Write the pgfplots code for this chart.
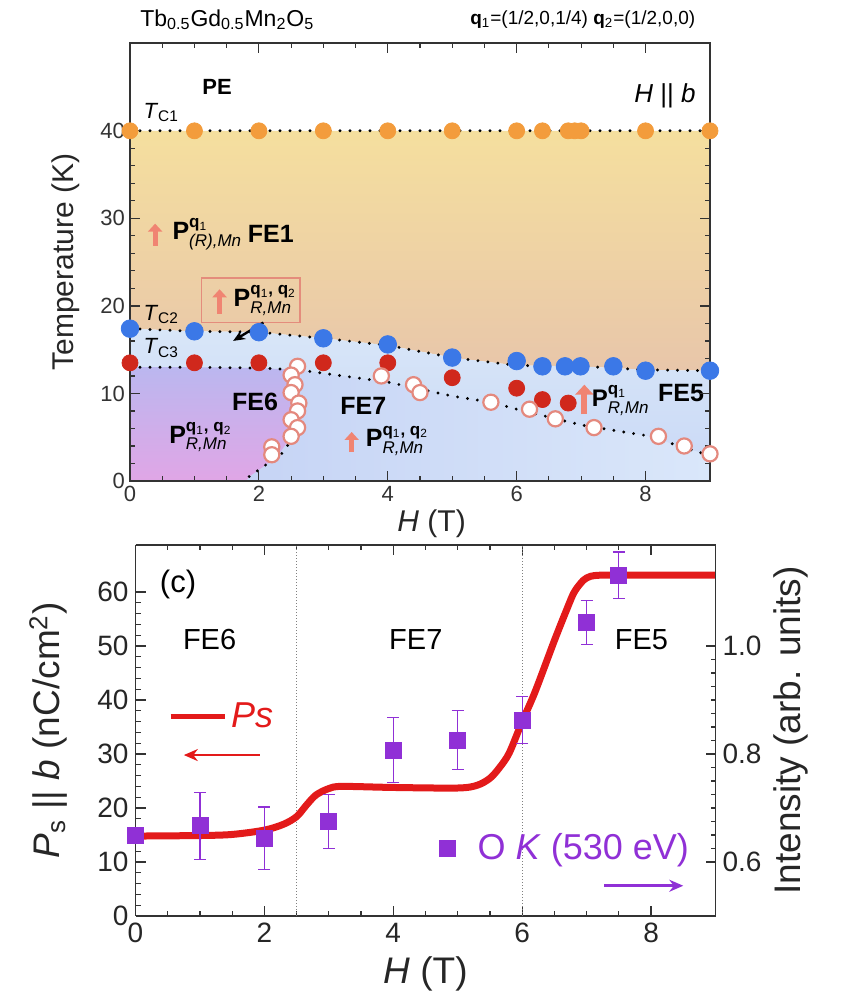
\documentclass[border=0pt]{standalone}
\usepackage{fontspec}
\setmainfont{Liberation Sans}
\usepackage{pgfplots}
\pgfplotsset{compat=1.18}
\usetikzlibrary{arrows.meta}
\definecolor{orangeC}{HTML}{F39C3C}
\definecolor{blueC}{HTML}{3B78E7}
\definecolor{redC}{HTML}{D0281C}
\definecolor{openE}{HTML}{E4897E}
\definecolor{pinkA}{HTML}{F08472}
\definecolor{purp}{HTML}{9030D6}
\definecolor{lineR}{HTML}{E31A1A}
\definecolor{boxC}{HTML}{E48C7C}
\definecolor{feA}{HTML}{F5DF9E}
\definecolor{feB}{HTML}{E8C6AA}
\definecolor{blA}{HTML}{D8E6F8}
\definecolor{blB}{HTML}{C9D8F6}
\definecolor{f7A}{HTML}{C6D4F5}
\definecolor{f7B}{HTML}{DAE7FA}
\definecolor{f6A}{HTML}{BBB7EF}
\definecolor{f6B}{HTML}{E0A6E6}
\newcommand{\PP}[2]{\textbf{P}$^{\hbox{\fontsize{8.5}{9}\selectfont\bfseries #1}}_{\hbox{\fontsize{8.5}{9}\selectfont\itshape #2}}$}
\newcommand{\qq}{q\textsubscript{\mdseries 1}, q\textsubscript{\mdseries 2}}
\newcommand{\qa}{q\textsubscript{\mdseries 1}}
\begin{document}
\begin{tikzpicture}
\useasboundingbox (0,0) rectangle (421pt,503pt);
% ================= TOP PANEL =================
\begin{axis}[
  at={(65pt,262.5pt)}, anchor=south west, scale only axis,
  width=290pt, height=218.85pt,
  xmin=0, xmax=9, ymin=0, ymax=50,
  xtick={0,2,4,6,8}, ytick={0,10,20,30,40},
  minor x tick num=3, minor y tick num=4,
  tick align=inside, major tick length=5pt, minor tick length=2.5pt,
  axis line style={line width=0.8pt, black!80},
  tick style={black!80, line width=0.6pt},
  axis on top, clip=false,
  /pgf/number format/assume math mode=true,
  tick label style={font=\fontsize{11}{12}\selectfont, black!80},
  xlabel={\textit{H} (T)}, ylabel={Temperature (K)},
  label style={font=\fontsize{15}{16}\selectfont, black!85},
  ylabel style={at={(axis description cs:-0.11,0.5)}, anchor=center},
  xlabel style={at={(axis description cs:0.52,-0.098)}, anchor=center},
  xticklabel style={yshift=1pt},
  yticklabel style={xshift=1pt},
]
% FE1 region
\addplot[draw=none, top color=feA, bottom color=feB] coordinates {
 (0,40) (9,40) (9,12.6) (8,12.7) (7,13.1) (6,13.2) (5,14.1) (4,15.5) (3,16.3) (2,17.0) (1,17.1) (0,17.4)} -- cycle;
% blue region
\addplot[draw=none, top color=blA, bottom color=blB] coordinates {
 (0,17.4) (1,17.1) (2,17.0) (3,16.3) (4,15.5) (5,14.1) (6,13.2) (7,13.1) (8,12.7) (9,12.6) (9,0) (0,0)} -- cycle;
% FE7 lighter lower right
\addplot[draw=none, left color=f7A, right color=f7B] coordinates {
 (2.6,12.7) (3,12.3) (4,11.3) (5,9.7) (5.6,9.0) (6,8.2) (7,6.4) (8,5.2) (9,2.9) (9,0) (1.8,0) (1.85,0.5) (2.1,1.8) (2.3,3) (2.5,5) (2.6,8) (2.6,10) (2.65,12.5)} -- cycle;
% FE6 region
\addplot[draw=none, top color=f6A, bottom color=f6B] coordinates {
 (0,13.0) (1,13.0) (2,12.9) (2.6,12.7) (2.65,12.5) (2.6,10) (2.6,8) (2.5,5) (2.3,3) (2.1,1.8) (1.85,0.5) (1.8,0) (0,0)} -- cycle;
% dotted lines
\addplot[black, line width=1.6pt, line cap=round, dash pattern=on 0pt off 5pt] coordinates {(0,40) (9,40)};
\addplot[black, line width=1.6pt, line cap=round, dash pattern=on 0pt off 5pt] coordinates {
 (0,17.4) (1,17.1) (2,17.0) (3,16.3) (4,15.5) (5,14.1) (6,13.2) (7,13.1) (8,12.7) (9,12.6)};
\addplot[black, line width=1.6pt, line cap=round, dash pattern=on 0pt off 5pt] coordinates {
 (0,13.0) (1,13.0) (2,12.9) (2.6,12.7) (3,12.3) (4,11.3) (5,9.7) (5.6,9.0) (6,8.2) (7,6.4) (8,5.2) (9,2.9)};
\addplot[black, line width=1.6pt, line cap=round, dash pattern=on 0pt off 5pt] coordinates {
 (1.85,0.5) (2.1,1.8) (2.35,3.1) (2.5,4.6)};
% points
\addplot[only marks, mark=*, mark size=4pt, mark options={draw=orangeC, fill=orangeC}] coordinates {
 (0,40) (1,40) (2,40) (3,40) (4,40) (5,40) (6,40) (6.4,40) (6.8,40) (6.9,40) (7,40) (8,40) (9,40)};
\addplot[only marks, mark=*, mark size=4.4pt, mark options={draw=blueC, fill=blueC}] coordinates {
 (0,17.4) (1,17.1) (2,17.0) (3,16.3) (4,15.6) (5,14.1) (6,13.7) (6.4,13.1) (6.75,13.1) (6.99,13.1) (7.5,13.1) (8,12.6) (9,12.6)};
\addplot[only marks, mark=*, mark size=4pt, mark options={draw=redC, fill=redC}] coordinates {
 (0,13.5) (1,13.5) (2,13.5) (3,13.5) (4,13.5) (5,11.8) (6,10.6) (6.4,9.3) (6.8,8.9)};
\addplot[only marks, mark=*, mark size=3.8pt, mark options={draw=openE, fill=white, line width=1.1pt}] coordinates {
 (2.6,13.1) (2.5,12.1) (2.56,11.0) (2.5,10.1) (2.62,8.9) (2.6,8.0) (2.5,7.0) (2.6,6.1) (2.5,5.1) (2.2,3.9) (2.2,3.0)
 (3.9,12.0) (4.4,11.0) (4.5,10.1) (5.6,9.0) (6.2,8.2) (6.6,7.1) (7.2,6.1) (8.2,5.1) (8.6,4.0) (9,3.1)};
% annotations
\node[anchor=west, font=\fontsize{11.5}{12}\selectfont] at (axis cs:0.05,52.7) {Tb\textsubscript{0.5}Gd\textsubscript{0.5}Mn\textsubscript{2}O\textsubscript{5}};
\node[anchor=east, font=\fontsize{9.5}{10}\selectfont] at (axis cs:8.88,52.7) {\textbf{q}\textsubscript{1}=(1/2,0,1/4) \textbf{q}\textsubscript{2}=(1/2,0,0)};
\node[font=\fontsize{11}{12}\selectfont\bfseries] at (axis cs:1.35,45) {PE};
\node[font=\fontsize{13}{14}\selectfont] at (axis cs:8.3,44) {\textit{H} || \textit{b}};
\node[anchor=west, font=\fontsize{11}{12}\selectfont] at (axis cs:0.1,42.1) {\textit{T}\textsubscript{C1}};
\node[anchor=west, font=\fontsize{11}{12}\selectfont] at (axis cs:0.1,19.0) {\textit{T}\textsubscript{C2}};
\node[anchor=west, font=\fontsize{11}{12}\selectfont] at (axis cs:0.1,15.2) {\textit{T}\textsubscript{C3}};
\draw[pinkA, line width=2.5pt, -{Triangle[length=4pt,width=7pt]}] (axis cs:0.39,26.9) -- (axis cs:0.39,29.4);
\node[anchor=west, font=\fontsize{12.5}{13}\selectfont] at (axis cs:0.55,28.2) {\PP{\qa}{(R),Mn}};
\node[anchor=west, font=\fontsize{12.5}{13}\selectfont\bfseries] at (axis cs:1.72,28.2) {FE1};
\draw[boxC, line width=0.7pt] (axis cs:1.11,18.1) rectangle (axis cs:2.64,23.2);
\draw[pinkA, line width=2.5pt, -{Triangle[length=4pt,width=7pt]}] (axis cs:1.39,19.1) -- (axis cs:1.39,21.9);
\node[anchor=west, font=\fontsize{12.5}{13}\selectfont] at (axis cs:1.5,20.6) {\PP{\qq}{R,Mn}};
\draw[black, line width=1.2pt, -{Stealth[length=6pt,width=5pt]}] (axis cs:2.07,18.1) -- (axis cs:1.6,16.0);
\node[font=\fontsize{12.5}{13}\selectfont\bfseries] at (axis cs:1.94,9.0) {FE6};
\node[font=\fontsize{12.5}{13}\selectfont\bfseries] at (axis cs:3.62,8.6) {FE7};
\node[font=\fontsize{12.5}{13}\selectfont\bfseries] at (axis cs:8.55,10.1) {FE5};
\node[anchor=west, font=\fontsize{12.5}{13}\selectfont] at (axis cs:0.5,5.0) {\PP{\qq}{R,Mn}};
\draw[pinkA, line width=2.5pt, -{Triangle[length=4pt,width=7pt]}] (axis cs:3.44,3.3) -- (axis cs:3.44,5.6);
\node[anchor=west, font=\fontsize{12.5}{13}\selectfont] at (axis cs:3.55,4.6) {\PP{\qq}{R,Mn}};
\draw[pinkA, line width=3pt, -{Triangle[length=5pt,width=9pt]}] (axis cs:7.05,7.6) -- (axis cs:7.05,11.0);
\node[anchor=west, inner sep=1pt, font=\fontsize{12}{13}\selectfont] at (axis cs:7.13,9.2) {\PP{\qa}{R,Mn}};
\end{axis}
% ================= BOTTOM PANEL =================
\begin{axis}[
  at={(67.75pt,45pt)}, anchor=south west, scale only axis,
  width=290pt, height=185.5pt,
  xmin=0, xmax=9, ymin=0, ymax=68.7,
  axis y line*=left,
  xtick={0,2,4,6,8}, ytick={0,10,20,30,40,50,60},
  minor x tick num=3, minor y tick num=4,
  tick align=inside, major tick length=5pt, minor tick length=2.5pt,
  axis line style={line width=0.8pt, black!80},
  tick style={black!80, line width=0.6pt},
  clip=false,
  /pgf/number format/assume math mode=true,
  tick label style={font=\fontsize{14}{15}\selectfont, black!85},
  xlabel={\textit{H} (T)}, ylabel={\textit{P}\textsubscript{s} || \textit{b} (nC/cm\textsuperscript{2})},
  label style={font=\fontsize{18.5}{19}\selectfont, black!85},
  ylabel style={at={(axis description cs:-0.15,0.5)}, anchor=center},
  xlabel style={at={(axis description cs:0.5,-0.155)}, anchor=center},
  legend style={at={(axis cs:0.5,36.9)}, anchor=west, draw=none, fill=none,
     font=\fontsize{18}{19}\selectfont\itshape, text=lineR, inner sep=0pt},
  legend cell align=left,
]
\addplot[gray, line width=0.5pt, densely dotted, forget plot] coordinates {(2.5,0) (2.5,68.7)};
\addplot[gray, line width=0.5pt, densely dotted, forget plot] coordinates {(6,0) (6,68.7)};
\addplot[lineR, line width=3.5pt, smooth, tension=0.5,
  legend image code/.code={\draw[lineR, line width=2.5pt] (0pt,0pt) -- (27pt,0pt);}] coordinates {
 (0,14.8) (1,14.9) (1.5,15.1) (2,15.9) (2.3,17.0) (2.5,18.4) (2.65,20.5) (2.8,22.4) (3.0,23.6) (3.2,24.0)
 (4,23.8) (5,23.7) (5.3,24.2) (5.5,25.5) (5.65,27.5) (5.8,30.2) (6.0,36) (6.2,41.5) (6.5,51) (6.7,57)
 (6.8,59.8) (6.9,61.5) (7.0,62.6) (7.2,63.1) (8,63.1) (9,63.1)};
\addlegendentry{Ps}
\draw[lineR, line width=1.3pt, -{Stealth[length=7pt,width=6pt]}] (axis cs:1.93,29.8) -- (axis cs:0.75,29.8);
\node[font=\fontsize{15.5}{16}\selectfont] at (axis cs:0.66,61.3) {(c)};
\node[font=\fontsize{14.5}{15}\selectfont] at (axis cs:1.15,51.2) {FE6};
\node[font=\fontsize{14.5}{15}\selectfont] at (axis cs:4.35,51.2) {FE7};
\node[font=\fontsize{14.5}{15}\selectfont] at (axis cs:7.85,51.2) {FE5};
\draw[purp, line width=1.3pt, -{Stealth[length=7pt,width=6pt]}] (axis cs:7.27,5.6) -- (axis cs:8.5,5.6);
\end{axis}
\begin{axis}[
  at={(67.75pt,45pt)}, anchor=south west, scale only axis,
  width=290pt, height=185.5pt,
  xmin=0, xmax=9, ymin=0.5, ymax=1.187,
  axis y line*=right, axis x line=none,
  ytick={0.6,0.8,1.0}, minor y tick num=7,
  yticklabel style={/pgf/number format/.cd, fixed, fixed zerofill, precision=1},
  tick align=inside, major tick length=5pt, minor tick length=2.5pt,
  axis line style={line width=0.8pt, black!80},
  tick style={black!80, line width=0.6pt},
  clip=false,
  /pgf/number format/assume math mode=true,
  tick label style={font=\fontsize{14}{15}\selectfont, black!85},
  ylabel={Intensity (arb. units)},
  label style={font=\fontsize{18.5}{19}\selectfont, black!85},
  ylabel style={at={(axis description cs:1.13,0.5)}, anchor=center, rotate=0},
  legend style={at={(axis cs:4.7,0.626)}, anchor=west, draw=none, fill=none,
     font=\fontsize{18}{19}\selectfont, text=purp, inner sep=0pt},
  legend image code/.code={\draw[purp, fill=purp] (-4pt,-4pt) rectangle (4pt,4pt);},
]
\addplot[only marks, mark=square*, mark size=4pt, mark options={draw=purp, fill=purp},
  error bars/.cd, y dir=both, y explicit,
  error bar style={purp, line width=0.6pt},
  error mark options={rotate=90, purp, mark size=3pt, line width=0.6pt}]
  coordinates {
 (0,0.650) +- (0,0)
 (1,0.667) +- (0,0.062)
 (2,0.644) +- (0,0.058)
 (3,0.675) +- (0,0.050)
 (4,0.807) +- (0,0.060)
 (5,0.826) +- (0,0.054)
 (6,0.863) +- (0,0.043)
 (7,1.043) +- (0,0.041)
 (7.5,1.131) +- (0,0.043)};
\addlegendentry{\hspace{9pt}O \textit{K} (530 eV)}
\end{axis}
\end{tikzpicture}
\end{document}
